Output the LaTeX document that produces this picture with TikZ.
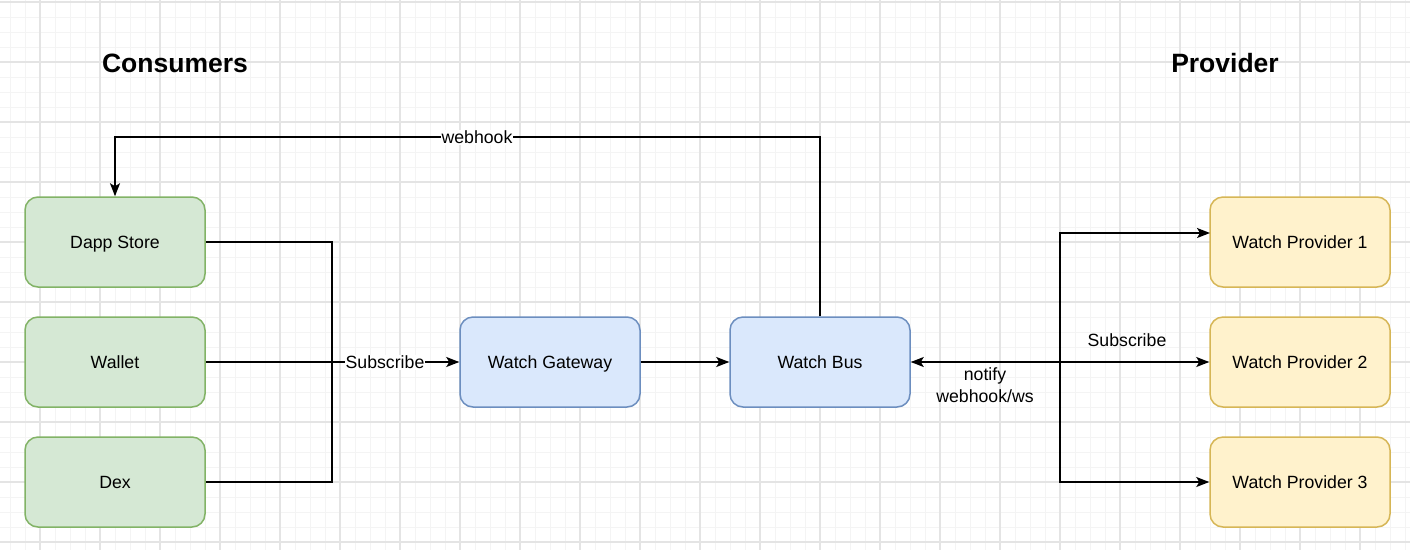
\documentclass[tikz,border=0pt]{standalone}
\usepackage{fontspec}
\setmainfont{Liberation Sans}
\usetikzlibrary{arrows.meta,positioning}
\definecolor{gmin}{HTML}{F4F4F4}
\definecolor{gmaj}{HTML}{E4E4E4}
\definecolor{gfill}{HTML}{D5E8D4}
\definecolor{gline}{HTML}{82B366}
\definecolor{bfill}{HTML}{DAE8FC}
\definecolor{bline}{HTML}{6C8EBF}
\definecolor{yfill}{HTML}{FFF2CC}
\definecolor{yline}{HTML}{D6B656}
\tikzset{
  box/.style={rounded corners=13pt, minimum width=180pt, minimum height=90pt, line width=1.5pt, inner sep=0pt, font=\fontsize{17.7}{21}\selectfont, text height=12.7pt, text depth=0pt, anchor=center},
  cons/.style={box, fill=gfill, draw=gline},
  core/.style={box, fill=bfill, draw=bline},
  prov/.style={box, fill=yfill, draw=yline},
  conn/.style={line width=1.6pt, -{Stealth[length=13pt,width=10pt,inset=3pt]}},
  plain/.style={line width=1.6pt},
  lbl/.style={font=\fontsize{17.7}{21}\selectfont, inner sep=1pt},
  title/.style={font=\bfseries\fontsize{26.5}{30}\selectfont},
  minorline/.style={draw=gmin, line width=1pt},
  majorline/.style={draw=gmaj, line width=1.2pt}
}
\begin{document}
\begin{tikzpicture}[x=1pt,y=-1pt]
\useasboundingbox (0,0) rectangle (1410,550);
\fill[white] (0,0) rectangle (1410,550);
% grid
\foreach \x in {10,25,...,1405} \draw[minorline] (\x,0) -- (\x,550);
\foreach \y in {2,17,...,547} \draw[minorline] (0,\y) -- (1410,\y);
\foreach \x in {40,100,...,1400} \draw[majorline] (\x,0) -- (\x,550);
\foreach \y in {2,62,...,542} \draw[majorline] (0,\y) -- (1410,\y);

% titles
\node[title] (tcons) at (175,63) {Consumers};
\node[title] (tprov) at (1225,63) {Provider};

% nodes
\node[cons] (dapp) at (115,242) {Dapp Store};
\node[cons] (wallet) at (115,362) {Wallet};
\node[cons] (dex) at (115,482) {Dex};
\node[core] (gw) at (550,362) {Watch Gateway};
\node[core] (bus) at (820,362) {Watch Bus};
\node[prov] (p1) at (1300,242) {Watch Provider 1};
\node[prov] (p2) at (1300,362) {Watch Provider 2};
\node[prov] (p3) at (1300,482) {Watch Provider 3};

\coordinate (j1) at (332,362);
\coordinate (wtop) at (820,137);
\coordinate (p1in) at (1210,233);
\coordinate (split) at (1060,362);

% consumers -> gateway
\draw[plain] (dapp.east) -| (j1);
\draw[plain] (dex.east) -| (j1);
\draw[conn] (wallet.east) -- (gw.west);
\node[lbl, fill=white] (sublbl) at (385,362) {Subscribe};

% gateway -> bus
\draw[conn] (gw.east) -- (bus.west);

% webhook back to dapp store
\draw[conn] (bus.north) -- (wtop) -| (dapp.north);
\node[lbl, fill=white] (whlbl) at (477,137) {webhook};

% bus <-> providers
\draw[conn] (split) -- (bus.east);
\draw[conn] (split) -- (p2.west);
\draw[conn] (split) |- (p1in);
\draw[conn] (split) |- (p3.west);
\node[lbl] (sub2) at (1127,340) {Subscribe};
\node[lbl, align=center, font=\fontsize{17.7}{22}\selectfont] (notif) at (985,385) {notify\\webhook/ws};
\end{tikzpicture}
\end{document}
